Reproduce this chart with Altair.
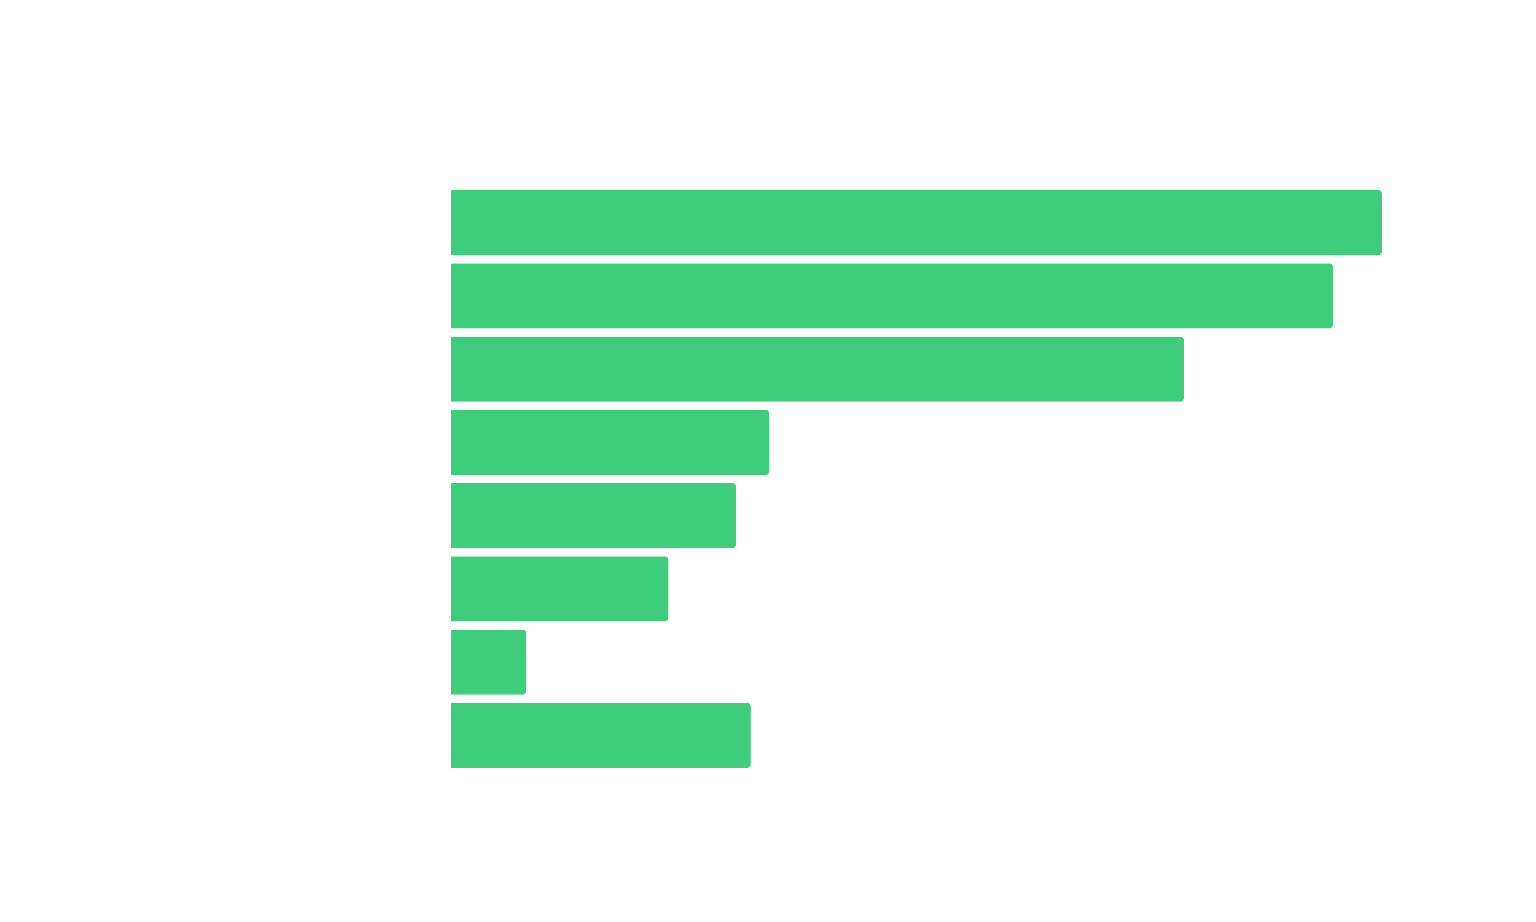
import altair as alt
import pandas as pd

categories = ["A", "B", "C", "D", "E", "F", "G", "H"]
values = [95, 90, 74.8, 32.5, 29.1, 22.2, 7.7, 30.6]

df = pd.DataFrame({"category": categories, "value": values})

chart = (
    alt.Chart(df)
    .mark_bar(color="#3ECD7A", cornerRadiusEnd=4)
    .encode(
        y=alt.Y("category:N", sort=categories, axis=None,
                scale=alt.Scale(paddingInner=0.11, paddingOuter=0.055)),
        x=alt.X("value:Q", axis=None, scale=alt.Scale(domain=[0, 100], nice=False)),
    )
    .properties(
        width=980,
        height=586,
        autosize=alt.AutoSizeParams(type="none"),
        padding={"left": 451, "top": 186, "right": 0, "bottom": 0},
    )
    .configure_view(stroke=None)
)

chart.save("out.html", embed_options={"renderer": "svg", "actions": False})
